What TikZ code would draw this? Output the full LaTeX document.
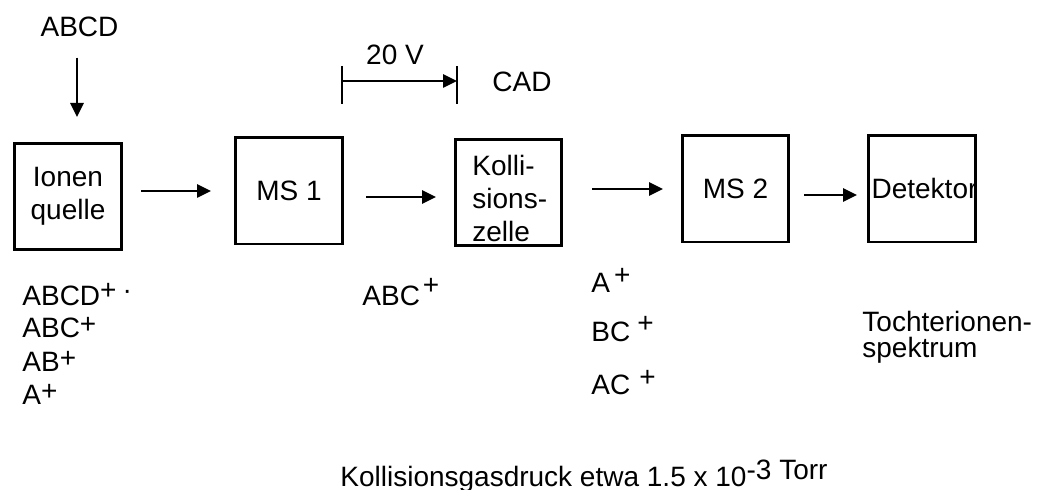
\documentclass[tikz,border=0pt]{standalone}
\usepackage{fontspec}
\setmainfont{Liberation Sans}
\usetikzlibrary{arrows.meta}
\tikzset{
  kasten/.style={draw,line width=1.3pt,minimum width=53.7pt,minimum height=53.2pt,inner sep=0pt,align=center},
  pfeil/.style={-{Triangle[length=7pt,width=6.5pt]},line width=1.3pt},
  linie/.style={line width=1.3pt},
  schrift/.style={inner sep=0pt,anchor=base west},
}
\newcommand{\hoch}[2]{\raisebox{#1}{#2}}

\begin{document}
\begin{tikzpicture}[x=0.5pt,y=-0.5pt,font=\fontsize{14}{16.5}\selectfont]
  \useasboundingbox (0,0) rectangle (1040,490);
  % Geraete
  \node[kasten] (quelle) at (68,196.5) {Ionen\\quelle};
  \node[kasten] (ms1) at (289,191) {MS 1};
  \node[kasten,minimum width=53.2pt] (zelle) at (508.5,192.5) {};
  \node[schrift,anchor=north west,align=left] (zelletxt) at (472,154.6) {Kolli-\\sions-\\zelle};
  \node[kasten,minimum width=53.2pt] (ms2) at (735.5,189) {MS 2};
  \node[kasten] (det) at (922,189) {\makebox[0pt]{\hspace{2.5pt}Detektor}};
  % Einlass und Stossaktivierung
  \node[schrift,anchor=base] (abcd) at (79.5,37) {ABCD};
  \node[schrift,anchor=base] (spannung) at (395,65) {20 V};
  \node[schrift,anchor=base] (cad) at (522,92) {CAD};
  \coordinate (uL) at (342,81);
  \coordinate (uR) at (457,81);
  % Ionen
  \node[schrift] (ion1) at (22,306) {ABCD\hoch{3pt}{+\kern3pt·}};
  \node[schrift] (ion2) at (22,338) {ABC\hoch{2pt}{+}};
  \node[schrift] (ion3) at (22,372) {AB\hoch{2pt}{+}};
  \node[schrift] (ion4) at (22,405) {A\hoch{2pt}{+}};
  \node[schrift] (vorl) at (362,306) {ABC\kern1.5pt\hoch{5.5pt}{+}};
  \node[schrift] (frag1) at (591,293) {A\kern2pt\hoch{4pt}{+}};
  \node[schrift] (frag2) at (591,342) {BC\kern3.5pt\hoch{4.5pt}{+}};
  \node[schrift] (frag3) at (591,395) {AC\kern4.5pt\hoch{4pt}{+}};
  \node[schrift] (spek1) at (862,332) {Tochterionen-};
  \node[schrift] (spek2) at (862,358) {spektrum};
  \node[schrift] (druck) at (340,487) {Kollisionsgasdruck etwa 1.5 x 10\hoch{3.5pt}{-3 Torr}};
  % Pfeile
  \draw[pfeil,shorten <=10pt,shorten >=12.5pt] ([xshift=-1.25pt]abcd.south) -- ([xshift=-1.25pt]abcd.south |- quelle.north);
  \draw[pfeil,shorten <=9pt,shorten >=11.5pt] (quelle.east |- ms1.west) -- (ms1.west);
  \draw[pfeil,shorten <=11pt,shorten >=9pt] ([yshift=-3pt]ms1.east) -- ([yshift=-3pt]ms1.east -| zelle.west);
  \draw[pfeil,shorten <=14.5pt,shorten >=9pt] (zelle.east |- ms2.west) -- (ms2.west);
  \draw[pfeil,shorten <=7pt,shorten >=5pt] ([yshift=-3pt]ms2.east) -- ([yshift=-3pt]ms2.east -| det.west);
  \draw[linie] ([yshift=7.5pt]uL) -- ([yshift=-11.5pt]uL);
  \draw[linie] ([yshift=7.5pt]uR) -- ([yshift=-11.5pt]uR);
  \draw[pfeil] (uL) -- (uR);
\end{tikzpicture}
\end{document}
